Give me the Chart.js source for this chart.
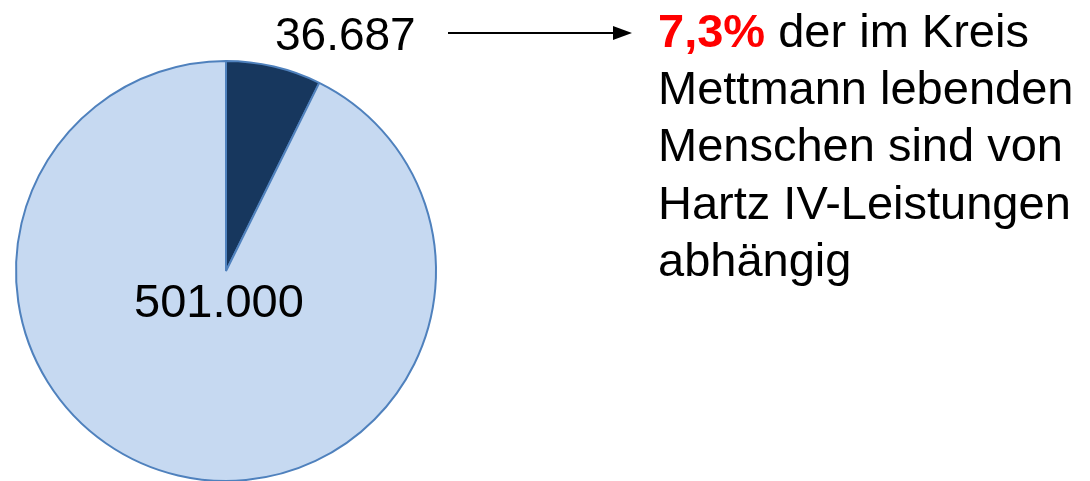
<!DOCTYPE html>
<html>
<head>
<meta charset="utf-8">
<script src="https://cdn.jsdelivr.net/npm/chart.js@4/dist/chart.umd.min.js"></script>
<style>
  html, body { margin: 0; padding: 0; background: #fff; width: 1090px; height: 481px; overflow: hidden; }
  body { position: relative; font-family: "Liberation Sans", Arial, sans-serif; color: #000; }
  #wrap { position: absolute; left: 11px; top: 56px; width: 430px; height: 430px; }
  .lbl { position: absolute; white-space: nowrap; line-height: 57px; }
  #note { position: absolute; left: 658px; top: 2px; font-size: 47px; line-height: 57.2px; white-space: nowrap; }
  #note b { color: #ff0000; }
  svg { position: absolute; left: 0; top: 0; }
</style>
</head>
<body>
<div id="wrap"><canvas id="c" width="430" height="430"></canvas></div>
<div class="lbl" id="lblSmall" style="left:275px; top:6px; font-size:46px;"></div>
<div class="lbl" id="lblBig" style="left:134px; top:272px; font-size:47px;"></div>
<svg width="1090" height="481">
  <line x1="448" y1="33" x2="616" y2="33" stroke="#000" stroke-width="2"/>
  <polygon points="632,33 613,26 613,40" fill="#000"/>
</svg>
<div id="note"><b>7,3%</b> der im Kreis<br>Mettmann lebenden<br>Menschen sind von<br>Hartz IV-Leistungen<br>abhängig</div>
<script>
const categories = ["Hartz IV-Leistungsbezieher", "Übrige Einwohner"];
const values = [36687, 464313];
const valueLabels = ["36.687", "501.000"];
const sliceColors = ["#17375E", "#C6D9F1"];

document.getElementById('lblSmall').textContent = valueLabels[0];
document.getElementById('lblBig').textContent = valueLabels[1];

new Chart(document.getElementById('c'), {
  type: 'pie',
  data: {
    labels: categories,
    datasets: [{
      data: values,
      backgroundColor: sliceColors,
      borderColor: '#4F81BD',
      borderWidth: 2
    }]
  },
  options: {
    responsive: false,
    animation: false,
    layout: { padding: 4 },
    plugins: { legend: { display: false }, tooltip: { enabled: false } }
  }
});
</script>
</body>
</html>
